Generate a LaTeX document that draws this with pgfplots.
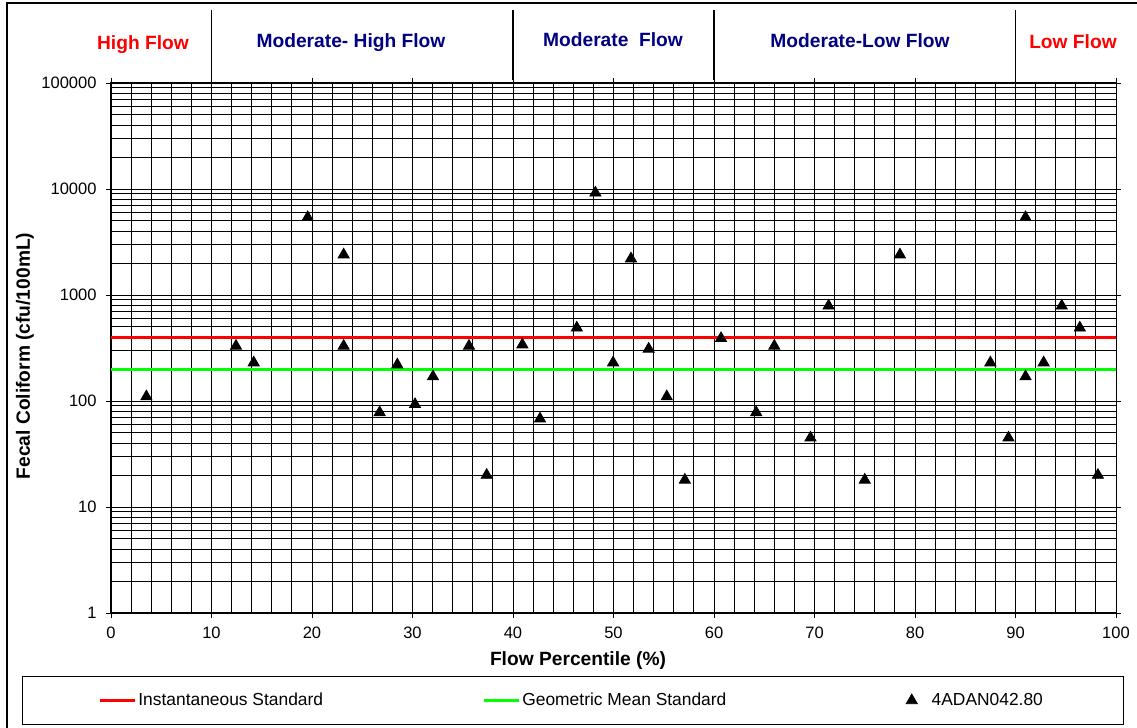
\documentclass[border=0pt]{standalone}
\usepackage{fontspec}
\setmainfont{Liberation Sans}
\usepackage{pgfplots}
\pgfplotsset{compat=1.18}
\definecolor{xlred}{RGB}{255,0,0}
\definecolor{xlgreen}{RGB}{0,255,0}
\definecolor{xlnavy}{RGB}{0,0,128}
\pgfplotsset{
  lineleg/.style={legend image code/.code={\draw[##1] (0pt,0pt) -- (17.5pt,0pt);}},
  markleg/.style={legend image code/.code={\path (0pt,0pt) (17.5pt,0pt); \draw[mark repeat=2,mark phase=2,##1] plot coordinates {(0pt,0pt) (8.75pt,0pt) (17.5pt,0pt)};}},
}
\begin{document}
\begin{tikzpicture}
\useasboundingbox (0,0) rectangle (568.5pt,364pt);
\draw[line width=1pt] (3.5pt,-2pt) -- (3.5pt,362.25pt) -- (572pt,362.25pt);
\begin{axis}[
 at={(55.5pt,57.5pt)}, anchor=south west, scale only axis, width=502.5pt, height=265pt,
 ymode=log, xmin=0, xmax=100, ymin=1, ymax=100000,
 xtick={0,10,...,100}, xticklabels={0,10,20,30,40,50,60,70,80,90,100},
 minor xtick={2,4,...,98},
 ytick={1,10,100,1000,10000,100000}, yticklabels={1,10,100,1000,10000,100000},
 xmajorgrids, xminorgrids, ymajorgrids, yminorgrids,
 major grid style={black, line width=0.45pt}, minor grid style={black, line width=0.45pt},
 tick align=outside, major tick length=2.5pt, minor tick length=0pt,
 tick style={black, line width=0.45pt},
 axis line style={black, line width=0.5pt},
 tick label style={font=\fontsize{8.25}{10}\selectfont},
 xticklabel style={yshift=-1pt},
 yticklabel style={xshift=-1.2pt},
 xlabel={Flow Percentile (\%)}, ylabel={Fecal Coliform (cfu/100mL)},
 label style={font=\bfseries\fontsize{9.6}{11}\selectfont},
 xlabel style={at={(axis description cs:0.4647,-0.0906)}, anchor=center},
 ylabel style={at={(axis description cs:-0.0856,0.4849)}, anchor=center},
 clip=false,
 legend columns=3,
 legend style={at={(axis description cs:-0.0886,-0.1651)}, anchor=west, draw=black,
   inner xsep=38pt, inner ysep=6pt, font=\fontsize{8.7}{10}\selectfont,
   nodes={inner xsep=1pt, inner ysep=2pt}, /tikz/column sep=0pt},
]
\addplot[xlred, line width=1.5pt, lineleg]
  coordinates {(0,400) (100,400)};
\addlegendentry{\makebox[171pt][l]{Instantaneous Standard}}
\addplot[xlgreen, line width=1.5pt, lineleg]
  coordinates {(0,200) (100,200)};
\addlegendentry{\makebox[184.75pt][l]{Geometric Mean Standard}}
\addplot[only marks, mark=triangle*, mark size=3.2pt, black, markleg]
  coordinates {
  (3.52,110) (12.44,330) (14.2,230) (19.57,5400) (23.15,2400) (23.15,330)
  (26.73,78) (28.49,220) (30.25,93) (32.04,170) (35.62,330) (37.38,20)
  (40.93,340) (42.69,68) (46.35,490) (48.2,9200) (49.96,230) (51.74,2200)
  (53.5,310) (55.3,110) (57.1,18) (60.7,390) (64.2,78) (66.0,330)
  (69.6,45) (71.4,790) (75.0,18) (78.5,2400) (87.5,230) (89.3,45)
  (91.0,170) (91.0,5400) (92.8,230) (94.6,790) (96.4,490) (98.2,20)
  };
\addlegendentry{\makebox[56.75pt][l]{4ADAN042.80}}
\draw[black, line width=0.6pt] (axis description cs:0.1,1.0057) -- (axis description cs:0.1,1.1377);
\draw[black, line width=0.6pt] (axis description cs:0.4,1.0057) -- (axis description cs:0.4,1.1377);
\draw[black, line width=0.6pt] (axis description cs:0.6,1.0057) -- (axis description cs:0.6,1.1377);
\draw[black, line width=0.6pt] (axis description cs:0.9,1.0057) -- (axis description cs:0.9,1.1377);
\begin{scope}[every node/.style={font=\bfseries\fontsize{9.6}{11}\selectfont, anchor=base}]
\node[text=xlred] at (axis description cs:0.0318,1.0623) {High Flow};
\node[text=xlnavy] at (axis description cs:0.2388,1.0666) {Moderate- High Flow};
\node[text=xlnavy] at (axis description cs:0.4995,1.0685) {Moderate\ \ Flow};
\node[text=xlnavy] at (axis description cs:0.7453,1.0670) {Moderate-Low Flow};
\node[text=xlred] at (axis description cs:0.9572,1.0655) {Low Flow};
\end{scope}
\end{axis}
\end{tikzpicture}
\end{document}
